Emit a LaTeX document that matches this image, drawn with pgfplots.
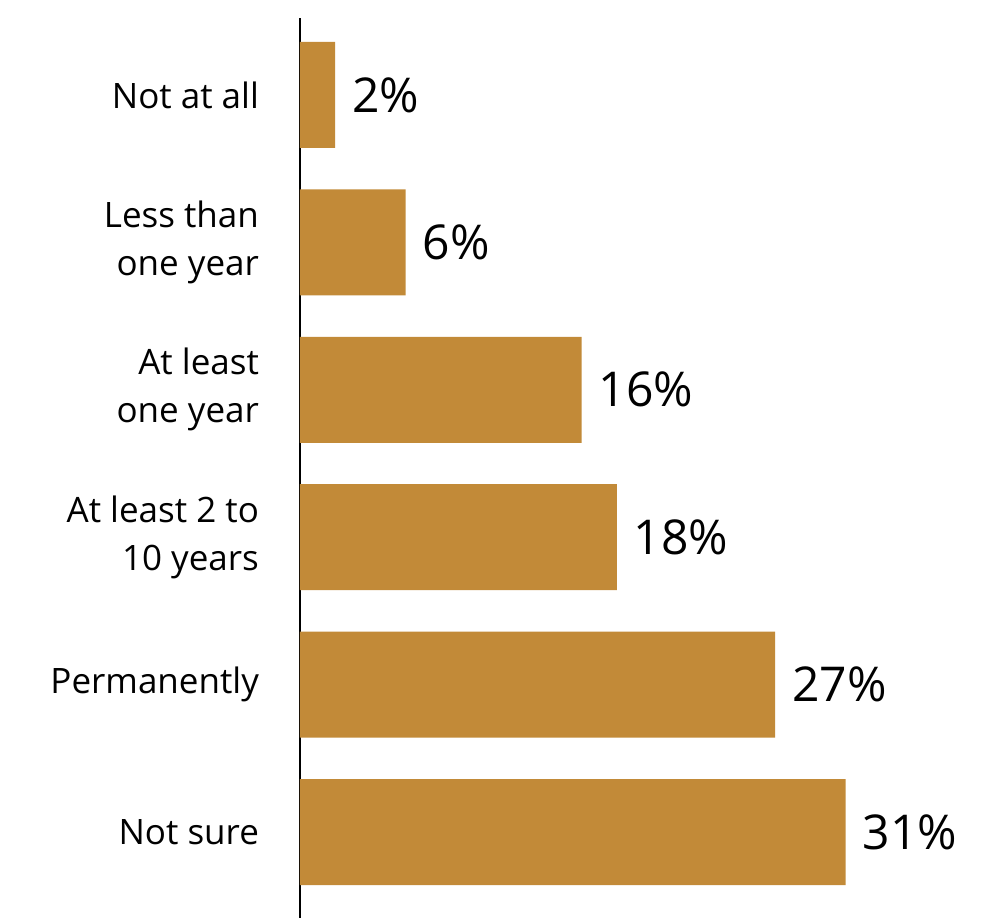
\documentclass[border=0pt]{standalone}
\usepackage{pgfplots}
\pgfplotsset{compat=1.18}
\usepackage{fontspec}
\setmainfont{Open Sans}
\definecolor{barcolor}{RGB}{194,138,56}

\begin{document}
\begin{tikzpicture}
\begin{axis}[
  scale only axis,
  width=344pt, height=450pt,
  xbar, bar width=53pt,
  xmin=0, xmax=39.09,
  ymin=-0.522, ymax=5.583,
  y dir=reverse,
  hide x axis,
  axis y line*=left,
  axis line style={black, line width=0.8pt},
  ytick={0,1,2,3,4,5},
  yticklabels={{Not at all},{Less than\\one year},{At least\\one year},{At least 2 to\\10 years},{Permanently},{Not sure}},
  yticklabel style={align=right, font=\fontsize{17.5}{24}\selectfont, text=black, xshift=-17pt},
  major tick length=0pt,
  /pgf/number format/assume math mode=true,
  point meta=x,
  nodes near coords={\pgfmathprintnumber{\pgfplotspointmeta}\%},
  every node near coord/.append style={font=\fontsize{24}{28}\selectfont, text=black, anchor=west, xshift=5pt},
  clip=false,
]
\addplot[fill=barcolor, draw=none] coordinates {
  (2,0) (6,1) (16,2) (18,3) (27,4) (31,5)
};
\end{axis}
\pgfresetboundingbox
\path ([xshift=-150pt]current axis.south west) rectangle ([yshift=9pt]current axis.north east);
\end{tikzpicture}
\end{document}
